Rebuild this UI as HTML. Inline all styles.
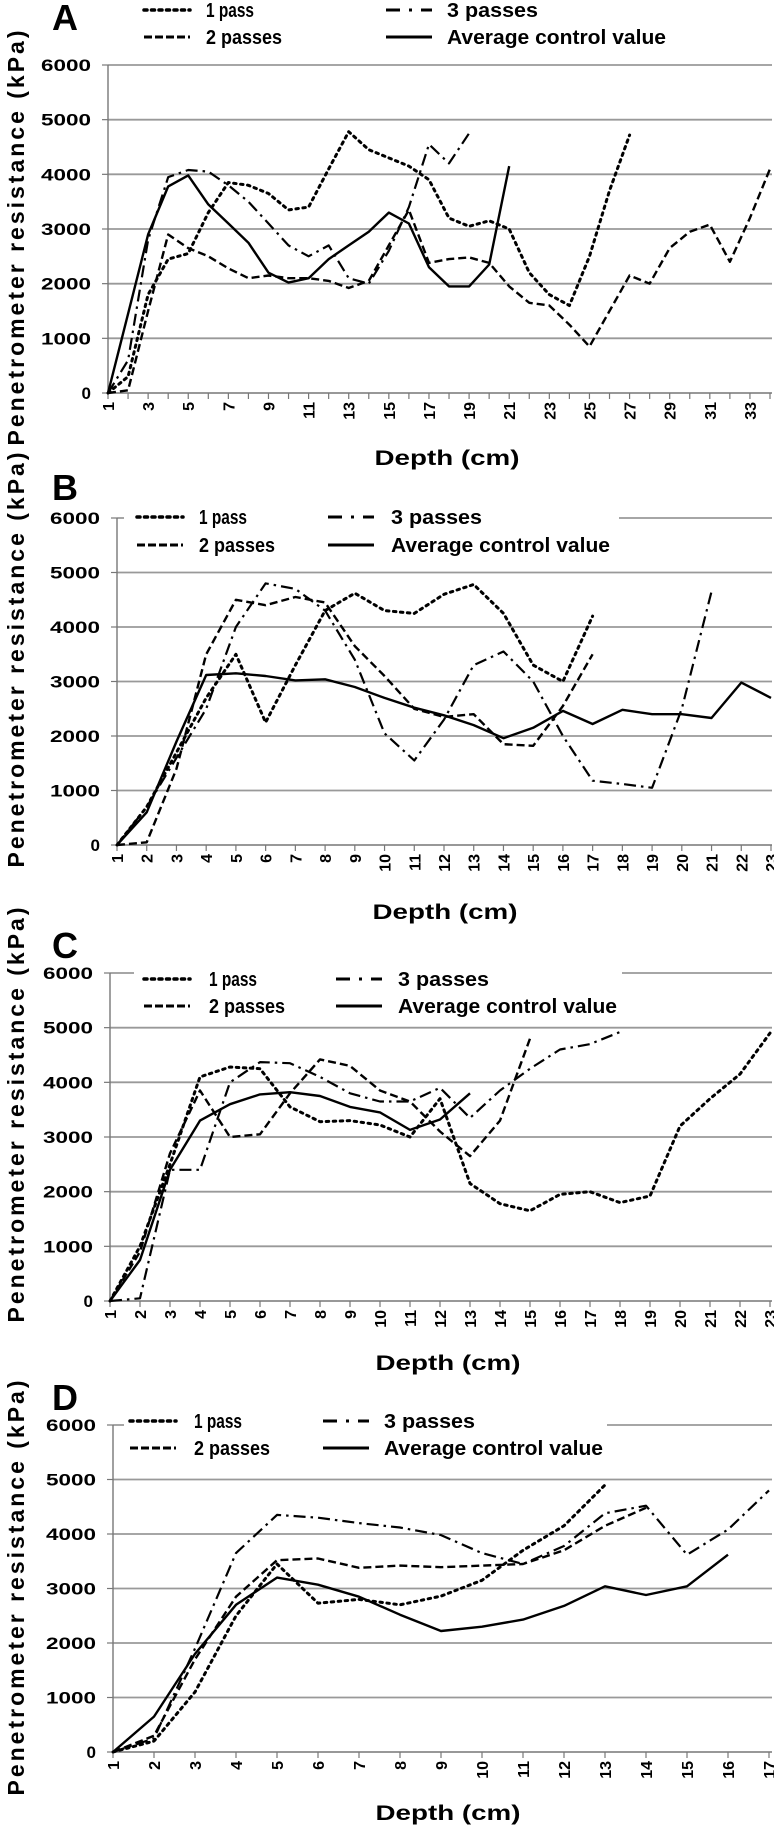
<!DOCTYPE html>
<html><head><meta charset="utf-8"><style>
html,body{margin:0;padding:0;background:#fff;}
svg{display:block;}
text{font-family:"Liberation Sans",sans-serif;fill:#000;}
</style></head><body>
<svg id="chart" width="774" height="1829" viewBox="0 0 774 1829" xmlns="http://www.w3.org/2000/svg"></svg>
<script>
// Panel A data
const aOnePass = [0,300,1800,2450,2550,3300,3850,3800,3650,3350,3400,4100,4780,4450,4300,4150,3900,3200,3050,3150,3000,2200,1800,1600,2500,3700,4720];
const aTwoPass = [0,50,1500,2900,2650,2500,2280,2100,2150,2100,2100,2050,1920,2050,2700,3350,2380,2450,2480,2380,1950,1650,1600,1250,850,1500,2150,2000,2650,2950,3080,2400,3200,4100];
const aThreePass = [0,600,2800,3950,4080,4050,3800,3500,3100,2700,2500,2700,2100,2000,2600,3400,4550,4200,4750];
const aControl = [0,1450,2900,3780,3980,3450,3100,2750,2200,2020,2100,2450,2700,2950,3300,3100,2300,1950,1950,2350,4150];
// Panel B data
const bOnePass = [0,700,1700,2700,3500,2250,3300,4300,4620,4300,4250,4600,4780,4250,3300,3000,4200];
const bTwoPass = [0,50,1400,3500,4500,4400,4550,4450,3650,3100,2500,2350,2400,1850,1820,2550,3500];
const bThreePass = [0,700,1600,2500,4000,4800,4700,4300,3400,2050,1550,2300,3300,3550,3000,2000,1180,1120,1050,2500,4650];
const bControl = [0,600,1900,3120,3150,3100,3020,3040,2900,2700,2520,2380,2200,1960,2150,2460,2220,2480,2400,2400,2330,2980,2700];
// Panel C data
const cOnePass = [0,1000,2500,4100,4280,4250,3550,3280,3300,3220,3000,3700,2150,1780,1650,1950,2000,1800,1920,3200,3700,4150,4900];
const cTwoPass = [0,900,2700,3850,3000,3050,3800,4420,4300,3850,3650,3100,2650,3300,4800];
const cThreePass = [0,50,2400,2400,4000,4370,4350,4100,3800,3650,3650,3900,3350,3850,4250,4600,4700,4920];
const cControl = [0,750,2400,3300,3600,3780,3820,3750,3550,3450,3130,3320,3800];
// Panel D data
const dOnePass = [0,200,1100,2500,3450,2730,2800,2700,2860,3150,3700,4150,4900];
const dTwoPass = [0,300,1700,2850,3520,3550,3380,3420,3390,3420,3450,3700,4150,4480];
const dThreePass = [0,250,1900,3650,4350,4300,4200,4120,3980,3650,3450,3780,4380,4520,3620,4080,4800];
const dControl = [0,650,1800,2700,3200,3070,2850,2520,2220,2300,2430,2680,3040,2880,3040,3620];
const yTicks = [0,1000,2000,3000,4000,5000,6000];

const NS="http://www.w3.org/2000/svg";
const svg=document.getElementById('chart');
function mk(tag,attrs,parent){const e=document.createElementNS(NS,tag);for(const k in attrs)e.setAttribute(k,attrs[k]);(parent||svg).appendChild(e);return e;}
const styles={one:"2.5,4.5",two:"8,4",three:"12,5,2.5,5",ctrl:""};
const widths={one:3,two:2.4,three:2.2,ctrl:2.4};
const legDash={one:"3,4.5",two:"8,3",three:"14,9,3,9",ctrl:""};

const panels=[
 {id:'a',letter:'A',lx:52,ly:30,max:34,x0:108,x1:770,y6:65,y0:393,step:2,depthX:447,depthY:465,titleY:238,
  series:{one:aOnePass,two:aTwoPass,three:aThreePass,ctrl:aControl},
  leg:{x1:144,x2:386,t1:206,t2:447,y1:10,y2:37,box:false}},
 {id:'b',letter:'B',lx:52,ly:500,max:23,x0:117,x1:771,y6:518,y0:845,step:1,depthX:445,depthY:919,titleY:660,
  series:{one:bOnePass,two:bTwoPass,three:bThreePass,ctrl:bControl},
  leg:{x1:137,x2:328,t1:199,t2:391,y1:517,y2:545,box:[124,619]}},
 {id:'c',letter:'C',lx:52,ly:958,max:23,x0:110,x1:770,y6:973,y0:1301,step:1,depthX:448,depthY:1370,titleY:1115,
  series:{one:cOnePass,two:cTwoPass,three:cThreePass,ctrl:cControl},
  leg:{x1:144,x2:336,t1:209,t2:398,y1:979,y2:1006,box:[134,622]}},
 {id:'d',letter:'D',lx:52,ly:1410,max:17,x0:113,x1:769,y6:1425,y0:1752,step:1,depthX:448,depthY:1820,titleY:1588,
  series:{one:dOnePass,two:dTwoPass,three:dThreePass,ctrl:dControl},
  leg:{x1:130,x2:323,t1:194,t2:384,y1:1421,y2:1448,box:[124,607]}}
];

panels.forEach(p=>{
  const g=mk('g',{});
  
  
  const xs=d=>p.x0+(d-1)*(p.x1-p.x0)/(p.max-1);
  const ys=v=>p.y0-v*(p.y0-p.y6)/6000;
  const lt=mk('text',{x:p.lx,y:p.ly,'font-size':36,'font-weight':'bold'},g);lt.textContent=p.letter;
  
  
  yTicks.forEach(v=>{
    if(v>0){const gl=mk('line',{x1:p.x0,x2:772,y1:ys(v),y2:ys(v),stroke:'#999','stroke-width':1.8},g);
      
      }
    mk('line',{x1:p.x0-6,x2:p.x0,y1:ys(v),y2:ys(v),stroke:'#777','stroke-width':1.2},g);
    const attrs={x:p.x0-17,y:ys(v)+6,'text-anchor':'end','font-size':17,'font-weight':'bold'};
    if(v>0){attrs.textLength=50;attrs.lengthAdjust='spacingAndGlyphs';}
    const t=mk('text',attrs,g);
    t.textContent=v;
    
    
  });
  mk('line',{x1:p.x0,x2:p.x0,y1:p.y6,y2:p.y0,stroke:'#777','stroke-width':1.4},g);
  mk('line',{x1:p.x0,x2:772,y1:p.y0,y2:p.y0,stroke:'#777','stroke-width':1.4},g);
  for(let d=1;d<=p.max;d++){
    mk('line',{x1:xs(d),x2:xs(d),y1:p.y0,y2:p.y0+6,stroke:'#777','stroke-width':1.2},g);
    if((d-1)%p.step===0){
      const t=mk('text',{x:0,y:0,'text-anchor':'end','font-size':16,'font-weight':'bold',
        transform:`translate(${xs(d)+6},${p.y0+9}) rotate(-90)`},g);
      t.textContent=d;
      
      
    }
  }
  const dt=mk('text',{x:p.depthX,y:p.depthY,'text-anchor':'middle','font-size':21,'font-weight':'bold',textLength:145,lengthAdjust:'spacingAndGlyphs'},g);
  dt.textContent='Depth (cm)';
  
  
  const yt=mk('text',{x:0,y:0,'text-anchor':'middle','font-size':23,'font-weight':'bold',textLength:415,lengthAdjust:'spacing',
    transform:`translate(24,${p.titleY}) rotate(-90)`},g);
  yt.textContent='Penetrometer resistance (kPa)';
  
  
  ['ctrl','two','three','one'].forEach(k=>{
    const arr=p.series[k];
    const pts=arr.map((v,i)=>xs(i+1).toFixed(1)+','+ys(v).toFixed(1)).join(' ');
    const pl=mk('polyline',{points:pts,fill:'none',stroke:'#000','stroke-width':widths[k],
      'stroke-dasharray':styles[k],'stroke-linecap':k==='one'?'round':'butt','stroke-linejoin':'round'},g);
    
    
  });
  const L=p.leg;
  if(L.box){const r=mk('rect',{x:L.box[0],y:L.y1-14,width:L.box[1]-L.box[0],height:52,fill:'#fff'},g);
    
    }
  const items=[['one','1 pass',L.x1,L.t1,L.y1,48],['two','2 passes',L.x1,L.t1,L.y2,76],['three','3 passes',L.x2,L.t2,L.y1,91],['ctrl','Average control value',L.x2,L.t2,L.y2,219]];
  items.forEach(it=>{
    const lg=mk('g',{},g);
    
    
    mk('line',{x1:it[2],x2:it[2]+46,y1:it[4],y2:it[4],stroke:'#000','stroke-width':it[0]==='one'?3.5:3,
      'stroke-dasharray':legDash[it[0]],'stroke-linecap':it[0]==='one'?'round':'butt'},lg);
    const t=mk('text',{x:it[3],y:it[4]+7,'font-size':20,'font-weight':'bold',textLength:it[5],lengthAdjust:'spacingAndGlyphs'},lg);
    t.textContent=it[1];
  });
});
</script>
</body></html>
